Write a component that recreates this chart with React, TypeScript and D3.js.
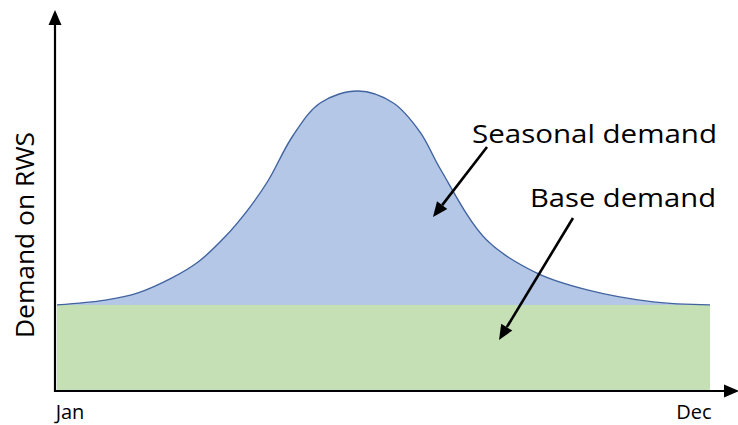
import React from "react";
import * as d3 from "d3";

// Position through the year (0 = Jan, 100 = Dec)
const yearPos = [0, 7.4, 12.4, 17.6, 21.6, 25.7, 29.2, 32.3, 36.1, 40.3, 46.1, 51.5, 55.6, 58.7, 65.8, 73.5, 81.2, 91.3, 100];
// Total demand (base + seasonal)
const totalDemand = [28.7, 30.3, 32.7, 37.7, 43, 51.3, 60.3, 70, 85, 96, 100, 96, 86.3, 74, 50.3, 39.3, 33.7, 29.7, 28.7];
const baseDemand = 28.7;
const tickLabels = ["Jan", "Dec"];
const tickPos = [0, 100];
const yLabel = "Demand on RWS";
const seasonalLabel = "Seasonal demand";
const baseLabel = "Base demand";

const W = 738;
const H = 425;
const FONT = "'Open Sans', 'Noto Sans', sans-serif";

export default function App() {
  const x = d3.scaleLinear().domain([0, 100]).range([57, 710]);
  const y = d3.scaleLinear().domain([0, 100]).range([391, 91]);

  const pts = yearPos.map((t, i) => ({ t, v: totalDemand[i] }));
  const curve = d3.curveCatmullRom.alpha(0.5);
  const area = d3
    .area<{ t: number; v: number }>()
    .x((d) => x(d.t))
    .y0(y(0))
    .y1((d) => y(d.v))
    .curve(curve);
  const line = d3
    .line<{ t: number; v: number }>()
    .x((d) => x(d.t))
    .y((d) => y(d.v))
    .curve(curve);

  const arrow = (x1: number, y1: number, x2: number, y2: number, len = 15, half = 6.5) => {
    const a = Math.atan2(y2 - y1, x2 - x1);
    const bx = x2 - len * Math.cos(a);
    const by = y2 - len * Math.sin(a);
    const px = -Math.sin(a) * half;
    const py = Math.cos(a) * half;
    return (
      <g>
        <line x1={x1} y1={y1} x2={bx} y2={by} stroke="#000" strokeWidth={2.6} />
        <path d={`M${x2},${y2}L${bx + px},${by + py}L${bx - px},${by - py}Z`} fill="#000" />
      </g>
    );
  };

  return (
    <svg width={W} height={H} style={{ position: "absolute", left: 0, top: 0, background: "#fff" }}>
      <path d={area(pts) || ""} fill="#b4c7e7" />
      <rect x={x(0)} y={y(baseDemand)} width={x(100) - x(0)} height={y(0) - y(baseDemand)} fill="#c5e0b4" />
      <path d={line(pts) || ""} fill="none" stroke="#41639f" strokeWidth={1.4} />

      {/* axes */}
      <line x1={55} y1={392} x2={55} y2={24} stroke="#000" strokeWidth={2.2} />
      <path d="M55,10L48.5,25L61.5,25Z" fill="#000" />
      <line x1={54} y1={391} x2={725} y2={391} stroke="#000" strokeWidth={2.2} />
      <path d="M739,391L724,384.5L724,397.5Z" fill="#000" />

      {tickLabels.map((lab, i) => (
        <text key={lab} x={x(tickPos[i]) + (i === 0 ? 13 : -16)} y={419} fontFamily={FONT} fontSize={20} textAnchor="middle" fill="#000">
          {lab}
        </text>
      ))}

      <text transform="translate(34,235) rotate(-90)" fontFamily={FONT} fontSize={26} textAnchor="middle" fill="#000" textLength={206} lengthAdjust="spacingAndGlyphs">
        {yLabel}
      </text>

      <text x={472} y={143} fontFamily={FONT} fontSize={26} fill="#000" textLength={245} lengthAdjust="spacingAndGlyphs">
        {seasonalLabel}
      </text>
      <text x={530} y={207} fontFamily={FONT} fontSize={26} fill="#000" textLength={186} lengthAdjust="spacingAndGlyphs">
        {baseLabel}
      </text>

      {arrow(487, 147, 433, 217)}
      {arrow(573, 218, 499, 340)}
    </svg>
  );
}
